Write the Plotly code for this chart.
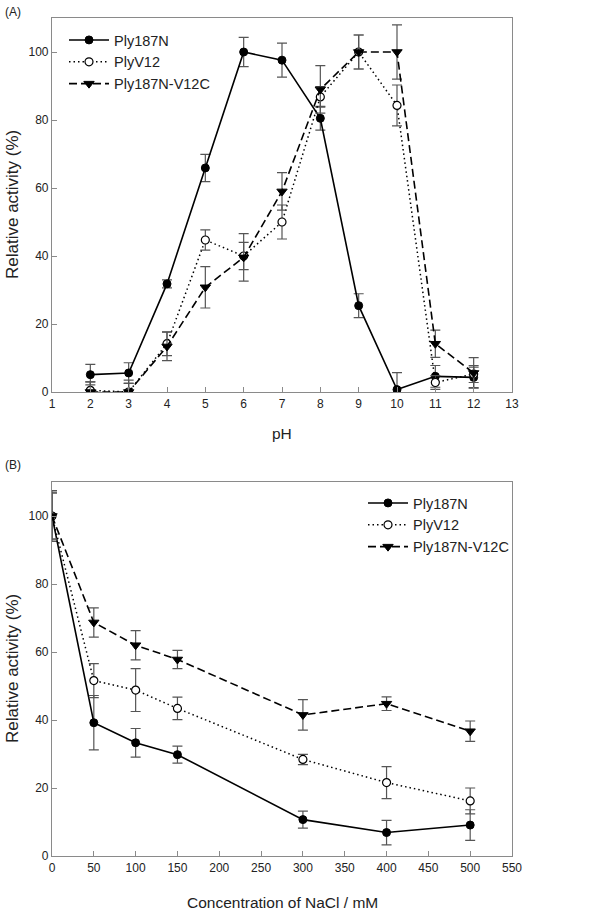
import plotly.graph_objects as go

# ---------------- Data ----------------
ph = [2, 3, 4, 5, 6, 7, 8, 9, 10, 11, 12]
ph_ply187n = [5.1, 5.6, 31.8, 65.9, 100, 97.6, 80.5, 25.4, 0.7, 4.6, 4.3]
ph_ply187n_err = [3.0, 3.0, 1.2, 4.0, 4.3, 5.0, 3.5, 3.5, 5.0, 3.2, 3.0]
ph_plyv12 = [0.5, 0.0, 14.2, 44.7, 40.0, 50.0, 86.8, 100, 84.3, 2.8, 5.3]
ph_plyv12_err = [2.5, 2.5, 3.5, 3.0, 4.0, 5.0, 3.0, 5.0, 6.0, 2.0, 2.5]
ph_v12c = [0.0, 0.0, 13.4, 30.8, 39.6, 59.0, 89.0, 100, 100, 14.2, 5.6]
ph_v12c_err = [3.0, 3.5, 4.2, 6.1, 7.0, 5.5, 7.0, 5.0, 8.0, 4.0, 4.5]

nacl = [0, 50, 100, 150, 300, 400, 500]
na_ply187n = [100, 39.2, 33.3, 29.8, 10.7, 6.9, 9.1]
na_ply187n_err = [7.5, 8.0, 4.2, 2.5, 2.5, 3.6, 4.5]
na_plyv12 = [100, 51.6, 48.8, 43.4, 28.4, 21.6, 16.2]
na_plyv12_err = [6.7, 5.0, 6.3, 3.3, 1.5, 4.7, 3.8]
na_v12c = [100, 68.7, 62.0, 57.8, 41.5, 44.8, 36.7]
na_v12c_err = [7.0, 4.3, 4.3, 2.7, 4.5, 2.0, 3.0]

names = ["Ply187N", "PlyV12", "Ply187N-V12C"]
x_ticks_ph = list(range(1, 14))
x_ticks_nacl = list(range(0, 551, 50))
y_ticks = [0, 20, 40, 60, 80, 100]

# ---------------- Styles ----------------
FONT = "Liberation Sans, Arial, sans-serif"
ERR_COLOR = "#555555"
FRAME = "#8a8a8a"

styles = [
    dict(line=dict(color="black", width=1.6, dash="solid"),
         marker=dict(symbol="circle", size=8, color="black", line=dict(color="black", width=1))),
    dict(line=dict(color="black", width=1.5, dash="1.5px,3px"),
         marker=dict(symbol="circle", size=8, color="white", line=dict(color="black", width=1.2))),
    dict(line=dict(color="black", width=1.6, dash="8px,4px"),
         marker=dict(symbol="triangle-down", size=9, color="black", line=dict(color="black", width=1))),
]

fig = go.Figure()

def add(xs, ys, errs, i, xa, ya, legend):
    fig.add_trace(go.Scatter(
        x=xs, y=ys, name=names[i], mode="lines+markers",
        line=styles[i]["line"], marker=styles[i]["marker"],
        error_y=dict(type="data", array=errs, visible=True, color=ERR_COLOR,
                     thickness=1.2, width=5),
        xaxis=xa, yaxis=ya, legend=legend,
    ))

add(ph, ph_ply187n, ph_ply187n_err, 0, "x", "y", "legend")
add(ph, ph_plyv12, ph_plyv12_err, 1, "x", "y", "legend")
add(ph, ph_v12c, ph_v12c_err, 2, "x", "y", "legend")
add(nacl, na_ply187n, na_ply187n_err, 0, "x2", "y2", "legend2")
add(nacl, na_plyv12, na_plyv12_err, 1, "x2", "y2", "legend2")
add(nacl, na_v12c, na_v12c_err, 2, "x2", "y2", "legend2")

# pixel geometry helpers
L, R, T, B = 52, 512, 18, 856
W, H = 589, 914
def px(x):
    return (x - L) / (R - L)
def py(y):
    return (B - y) / (B - T)

axis_common = dict(showline=True, linecolor=FRAME, linewidth=1.2, mirror=True,
                   ticks="inside", ticklen=5, tickcolor=FRAME, showgrid=False,
                   zeroline=False, tickfont=dict(family=FONT, size=12, color="#222"))

fig.update_layout(
    width=W, height=H,
    margin=dict(l=L, r=W - R, t=T, b=H - B),
    plot_bgcolor="white", paper_bgcolor="white",
    font=dict(family=FONT, color="#222"),
    xaxis=dict(domain=[0, 1], range=[1, 13], tickvals=x_ticks_ph, anchor="y", **axis_common),
    yaxis=dict(domain=[py(392), 1], range=[0, 110], tickvals=y_ticks, anchor="x", **axis_common),
    xaxis2=dict(domain=[0, 1], range=[0, 550], tickvals=x_ticks_nacl, anchor="y2", **axis_common),
    yaxis2=dict(domain=[0, py(482)], range=[0, 110], tickvals=y_ticks, anchor="x2", **axis_common),
    legend=dict(x=px(64), y=py(24), xanchor="left", yanchor="top",
                bgcolor="rgba(0,0,0,0)", itemwidth=40,
                font=dict(family=FONT, size=14.5, color="#222"), tracegroupgap=0),
    legend2=dict(x=px(363), y=py(487), xanchor="left", yanchor="top",
                 bgcolor="rgba(0,0,0,0)", itemwidth=40,
                 font=dict(family=FONT, size=14.5, color="#222"), tracegroupgap=0),
    showlegend=True,
)

ann_font = dict(family=FONT, size=15.5, color="#222")
vfont = dict(family=FONT, size=17, color="#222")
fig.add_annotation(text="(A)", x=px(3), y=py(12), xref="paper", yref="paper",
                   xanchor="left", yanchor="middle", showarrow=False,
                   font=dict(family=FONT, size=12, color="#222"))
fig.add_annotation(text="(B)", x=px(3), y=py(465), xref="paper", yref="paper",
                   xanchor="left", yanchor="middle", showarrow=False,
                   font=dict(family=FONT, size=12, color="#222"))
fig.add_annotation(text="pH", x=px(282), y=py(433), xref="paper", yref="paper",
                   xanchor="center", yanchor="middle", showarrow=False, font=ann_font)
fig.add_annotation(text="Concentration of NaCl / mM", x=px(282), y=py(903), xref="paper", yref="paper",
                   xanchor="center", yanchor="middle", showarrow=False, font=ann_font)
fig.add_annotation(text="Relative activity (%)", x=px(12), y=py(205), xref="paper", yref="paper",
                   xanchor="center", yanchor="middle", showarrow=False, textangle=-90, font=vfont)
fig.add_annotation(text="Relative activity (%)", x=px(12), y=py(669), xref="paper", yref="paper",
                   xanchor="center", yanchor="middle", showarrow=False, textangle=-90, font=vfont)

fig.write_html("out.html", config={"displayModeBar": False},
               post_script="document.body.style.margin='0px';")
